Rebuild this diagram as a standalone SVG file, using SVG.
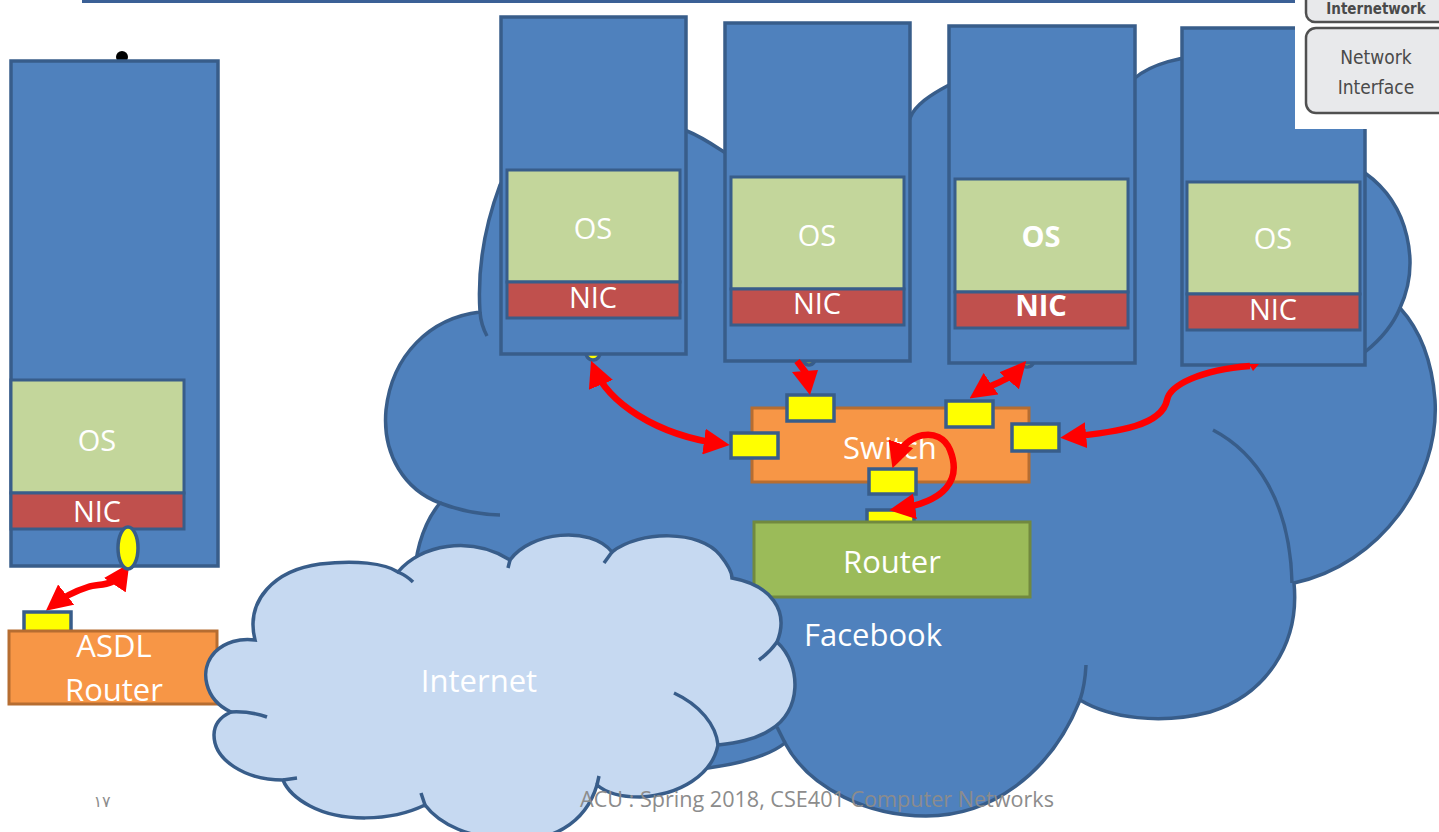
<svg xmlns="http://www.w3.org/2000/svg" width="1439" height="832" viewBox="0 0 1439 832">
<defs>
<style>
.srv{fill:#4f81bd;stroke:#385d8a;stroke-width:3.5}
.os{fill:#c3d69b;stroke:#385d8a;stroke-width:3}
.nic{fill:#c0504d;stroke:#385d8a;stroke-width:3}
.port{fill:#ffff00;stroke:#385d8a;stroke-width:3.5}
.inner{fill:none;stroke:#385d8a;stroke-width:3.5}
.lbl{font-family:"Open Sans","Liberation Sans",sans-serif;fill:#ffffff;text-anchor:middle}
.s29{font-size:29px}
.s31{font-size:31px}
.arr{fill:none;stroke:#ff0000;stroke-width:6.5}
.red{fill:#ff0000}
.leg{font-family:"DejaVu Sans Condensed","Liberation Sans Narrow","Liberation Sans",sans-serif;fill:#4a4a4a;text-anchor:middle}
</style>
<marker id="ah" viewBox="0 0 10 10" refX="7" refY="5" markerWidth="4" markerHeight="4" orient="auto-start-reverse" markerUnits="strokeWidth">
<path d="M0,0 L10,5 L0,10 Z" fill="#ff0000"/>
</marker>
</defs>

<rect x="82" y="0" width="1213" height="3" fill="#3b6096"/>

<g id="facebook-cloud">
<path fill="#4f81bd" stroke="#385d8a" stroke-width="3.5" d="M500,185 C485,225 477,265 480,312 C430,318 392,355 386,410 C382,455 405,490 440,503 C405,545 398,640 470,700 C540,760 650,775 708,768 C745,763 770,755 785,743 C810,790 870,816 926,816 C990,816 1050,775 1080,700 C1110,718 1160,725 1210,712 C1265,695 1300,645 1294,583 C1380,565 1440,480 1435,400 C1432,360 1420,330 1400,308 C1420,265 1410,205 1365,173 C1340,120 1290,55 1220,55 C1180,55 1150,65 1135,78 C1100,55 1000,55 949,85 C930,95 915,105 910,118 C870,85 780,100 740,162 C720,150 705,138 687,131 C640,110 540,110 500,185 Z"/>
<path class="inner" d="M480,312 Q481,325 487,336 M440,503 Q468,514 500,515 M1400,308 Q1390,332 1365,352 M1213,430 C1255,452 1290,500 1292,583 M1086,665 Q1085,685 1080,700 M777,727 Q781,735 785,743"/>
</g>

<g id="connectors-hidden">
<ellipse cx="593" cy="350" rx="8" ry="10" class="port"/>
<ellipse cx="809" cy="356" rx="7" ry="9" class="port"/>
<ellipse cx="1027" cy="358" rx="8" ry="9" class="port"/>
</g>

<g id="server1">
<rect class="srv" x="501" y="17" width="185" height="337"/>
<rect class="os" x="507" y="170" width="173" height="112"/>
<rect class="nic" x="507" y="282" width="173" height="36"/>
<text class="lbl s29" x="593" y="239">OS</text>
<text class="lbl s29" x="593" y="308">NIC</text>
</g>
<g id="server2">
<rect class="srv" x="725" y="23" width="185" height="338"/>
<rect class="os" x="731" y="177" width="173" height="112"/>
<rect class="nic" x="731" y="289" width="173" height="36"/>
<text class="lbl s29" x="817" y="246">OS</text>
<text class="lbl s29" x="817" y="314">NIC</text>
</g>
<g id="server3">
<rect class="srv" x="949" y="26" width="186" height="337"/>
<rect class="os" x="955" y="179" width="173" height="113"/>
<rect class="nic" x="955" y="292" width="173" height="36"/>
<text class="lbl s29" x="1041" y="247" font-weight="bold">OS</text>
<text class="lbl s29" x="1041" y="316" font-weight="bold">NIC</text>
</g>
<g id="server4">
<rect class="srv" x="1182" y="28" width="183" height="337"/>
<rect class="os" x="1187" y="182" width="173" height="112"/>
<rect class="nic" x="1187" y="294" width="173" height="36"/>
<text class="lbl s29" x="1273" y="249">OS</text>
<text class="lbl s29" x="1273" y="320">NIC</text>
</g>

<g id="switch">
<rect x="752" y="408" width="277" height="74" fill="#f79646" stroke="#b66d31" stroke-width="3"/>
<text class="lbl s31" x="890" y="459">Switch</text>
<rect class="port" x="731" y="433" width="47" height="25"/>
<rect class="port" x="787" y="395" width="47" height="26"/>
<rect class="port" x="946" y="401" width="47" height="26"/>
<rect class="port" x="1012" y="424" width="47" height="27"/>
<rect class="port" x="869" y="469" width="47" height="25"/>
</g>

<g id="router">
<rect class="port" x="867" y="510" width="47" height="20"/>
<rect x="754" y="522" width="276" height="75" fill="#9bbb59" stroke="#71893f" stroke-width="3"/>
<text class="lbl s31" x="892" y="573">Router</text>
</g>

<g id="connectors">
<path class="arr" marker-start="url(#ah)" marker-end="url(#ah)" d="M594,368 C608,402 655,435 722,444"/>
<path class="arr" d="M797,361 L806,373"/>
<polygon class="red" points="792,372 818,370 810,395"/>
<path class="arr" marker-start="url(#ah)" marker-end="url(#ah)" d="M976,394 C992,383 1008,382 1021,367"/>
<path class="arr" marker-end="url(#ah)" d="M1250,366 C1200,370 1170,385 1167,400 C1162,425 1120,432 1068,437"/>
<polygon class="red" points="1249,364 1259,364 1253,371"/>
<path class="arr" marker-start="url(#ah)" marker-end="url(#ah)" d="M895,461 C905,432 940,425 950,450 C962,480 945,502 897,509"/>
<path class="arr" marker-start="url(#ah)" marker-end="url(#ah)" d="M125,570 C113,588 100,583 88,587 C72,592 62,598 52,606"/>
</g>

<g id="home-pc">
<circle cx="122" cy="57" r="6" fill="#000"/>
<rect class="srv" x="11" y="61" width="207" height="505"/>
<rect class="os" x="11" y="380" width="173" height="113"/>
<rect class="nic" x="11" y="493" width="173" height="36"/>
<text class="lbl s29" x="97" y="451">OS</text>
<text class="lbl s29" x="97" y="522">NIC</text>
<ellipse cx="128" cy="548" rx="10" ry="21" class="port"/>
</g>

<g id="asdl-router">
<rect class="port" x="24" y="612" width="47" height="20"/>
<rect x="9" y="631" width="208" height="73" fill="#f79646" stroke="#b66d31" stroke-width="3"/>
<text class="lbl s31" x="114" y="657">ASDL</text>
<text class="lbl s31" x="114" y="701">Router</text>
</g>

<g id="internet">
<path fill="#c6d9f1" stroke="#385d8a" stroke-width="3.5" d="M255,640 C245,600 275,570 320,564 C355,560 385,563 398,572 C420,545 470,535 510,560 C530,532 590,525 612,552 C640,530 700,530 720,555 C728,565 732,572 732,578 C770,585 790,610 777,642 C802,665 802,712 770,730 C755,740 735,743 718,745 C712,775 680,795 640,797 C620,797 605,792 597,785 C585,825 550,842 510,840 C470,838 440,825 425,805 C390,822 340,822 310,806 C295,798 287,790 283,780 C245,780 214,760 214,735 C214,725 220,717 231,712 C205,700 198,670 215,652 C225,642 240,638 255,640 Z"/>
<path class="inner" d="M398,572 Q407,576 413,582 M510,560 L508,568 M612,552 L604,563 M777,642 Q770,652 759,660 M674,693 C700,705 716,725 718,745 M425,805 L421,793 M283,780 L297,778 M231,712 Q250,711 267,717 M597,785 L599,776"/>
<text class="lbl s31" x="479" y="692">Internet</text>
</g>

<text id="facebook-label" class="lbl s31" x="873" y="646">Facebook</text>

<g id="legend">
<rect x="1295" y="0" width="144" height="129" fill="#ffffff"/>
<rect x="1306" y="-18" width="145" height="40" rx="9" fill="#e8e9eb" stroke="#505050" stroke-width="2.5"/>
<text class="leg" x="1376" y="14" font-size="15" font-weight="bold" fill="#3a3a3a">Internetwork</text>
<rect x="1306" y="28" width="145" height="85" rx="10" fill="#e8e9eb" stroke="#505050" stroke-width="2.5"/>
<text class="leg" x="1376" y="64" font-size="19">Network</text>
<text class="leg" x="1376" y="94" font-size="19">Interface</text>
</g>

<g id="footer">
<text x="102" y="807" font-family="'DejaVu Sans',sans-serif" font-size="16" fill="#8c8c8c" text-anchor="middle">١٧</text>
<text x="580" y="807" font-family="'Open Sans','Liberation Sans',sans-serif" font-size="21" fill="#8c8c8c" textLength="474" lengthAdjust="spacingAndGlyphs">ACU : Spring 2018, CSE401 Computer Networks</text>
</g>
</svg>
